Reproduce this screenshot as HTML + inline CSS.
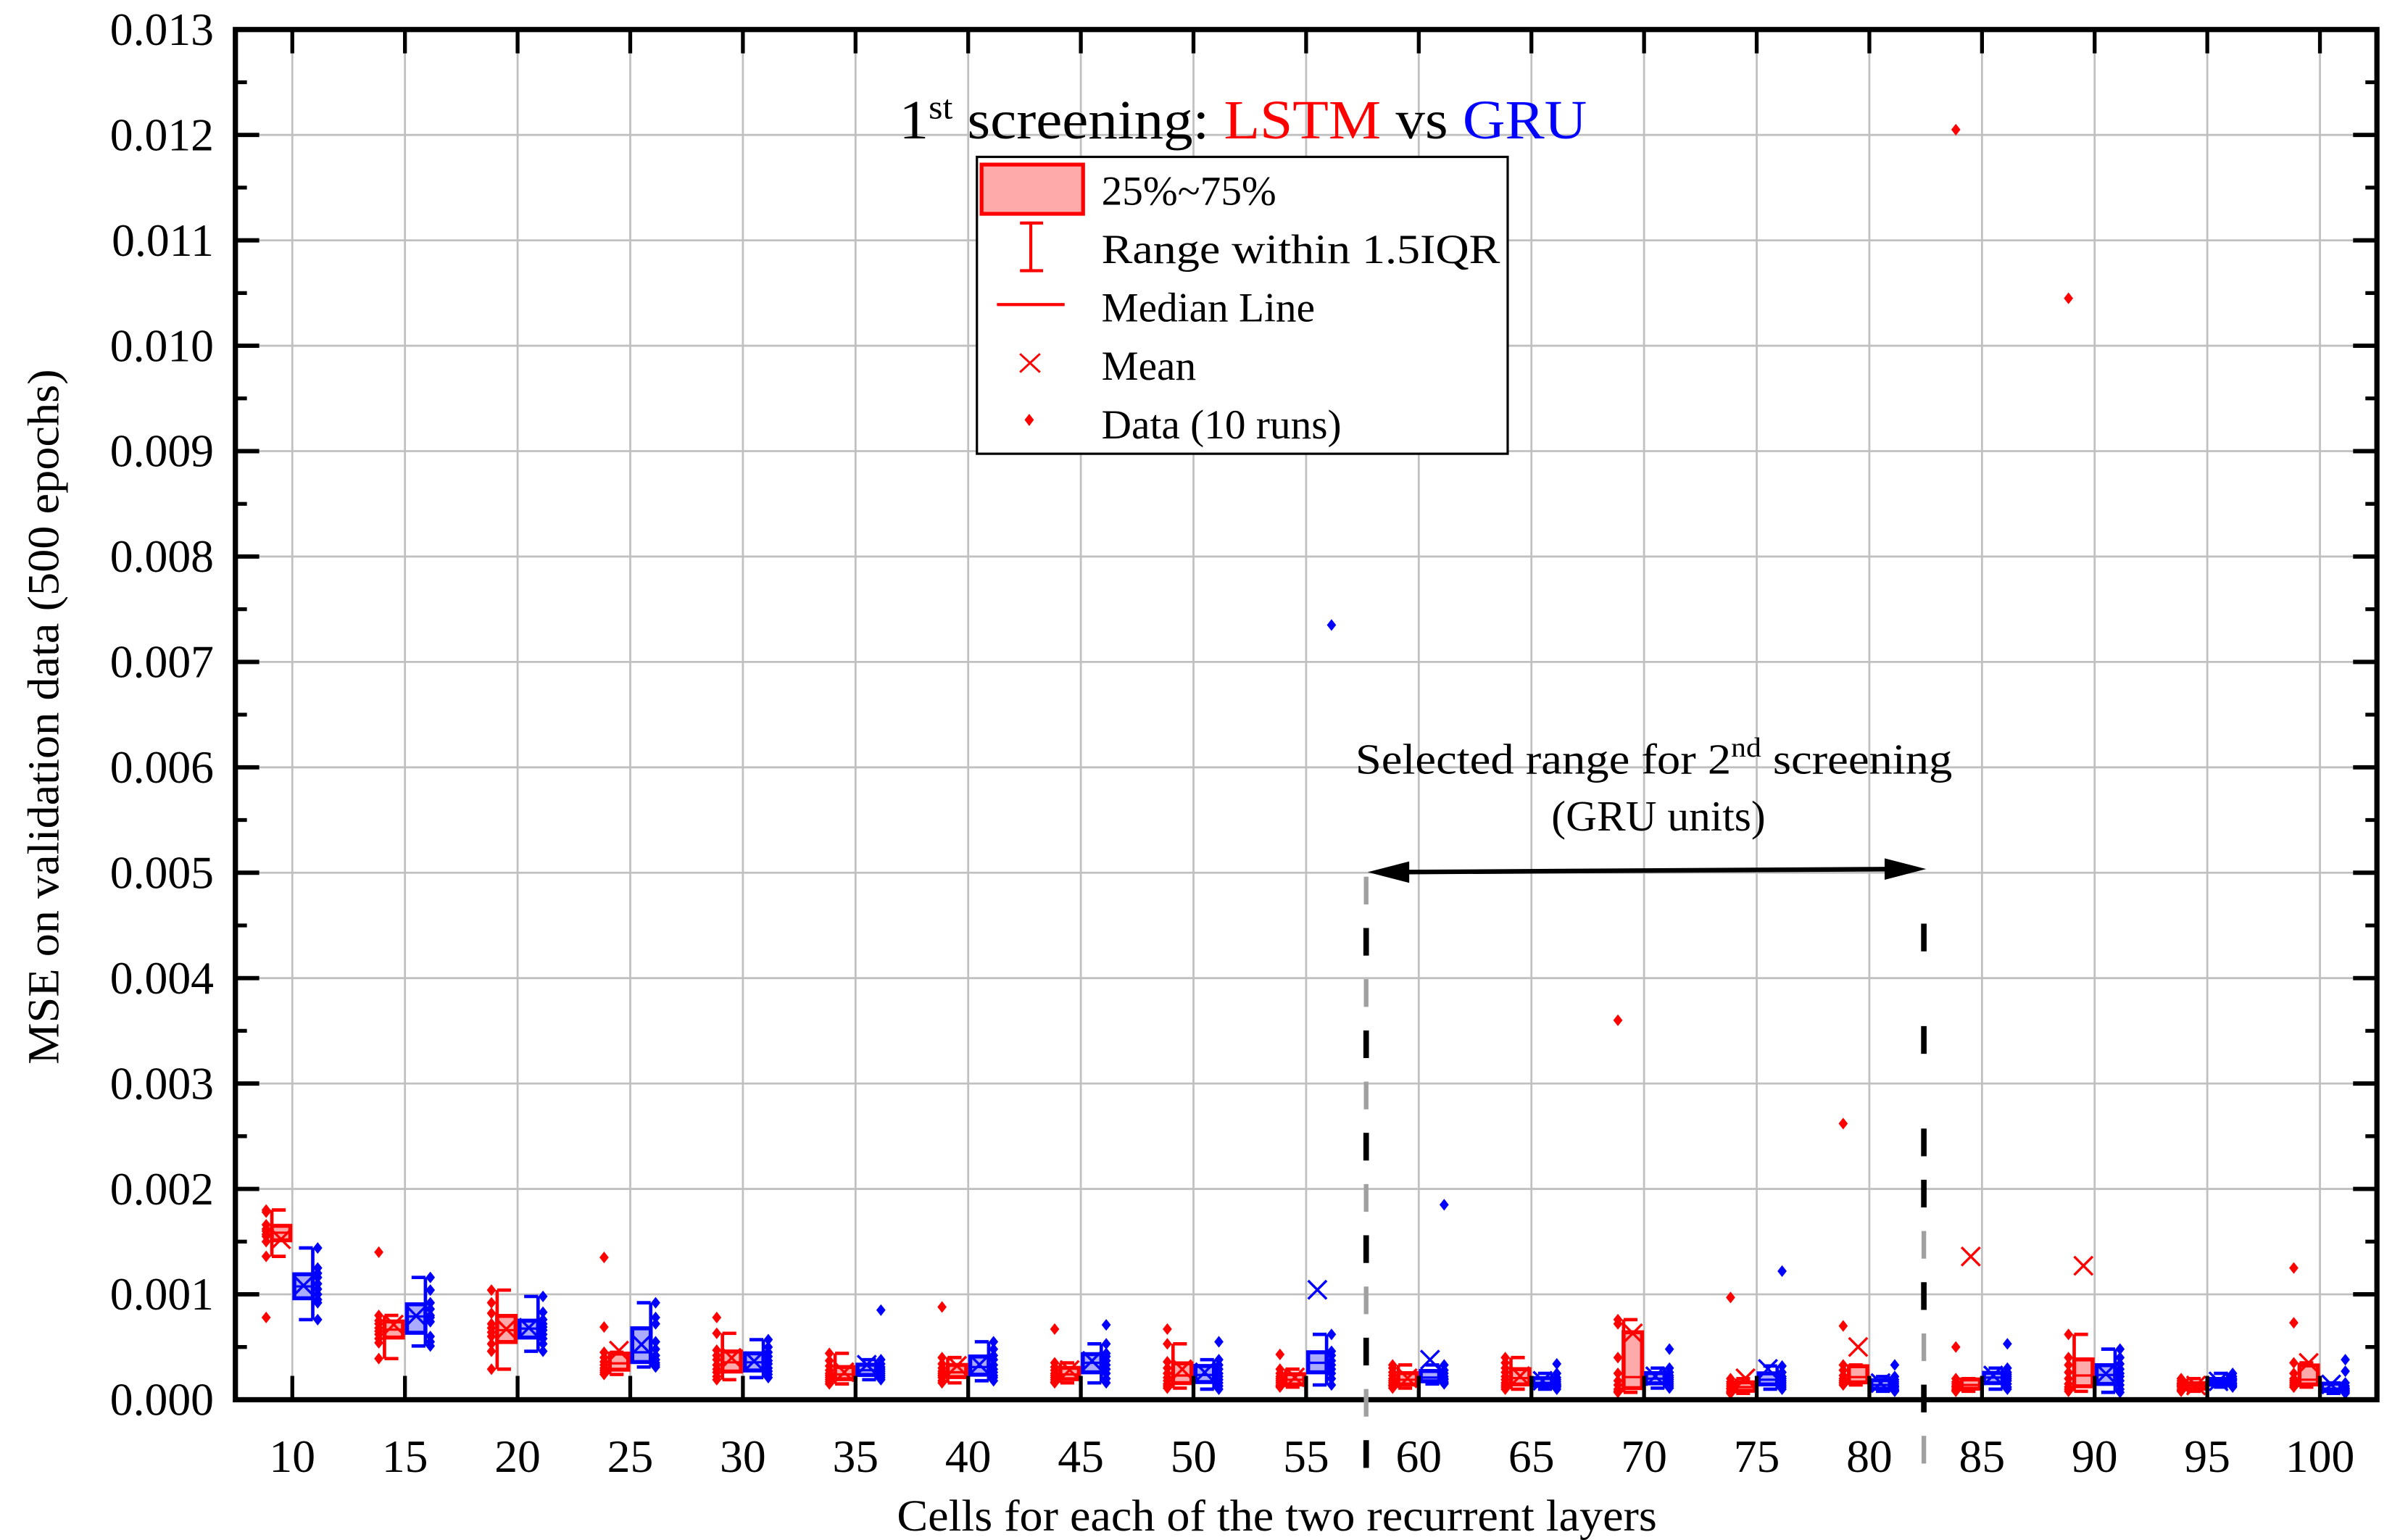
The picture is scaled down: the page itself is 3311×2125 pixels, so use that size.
<!DOCTYPE html>
<html><head><meta charset="utf-8">
<style>html,body{margin:0;padding:0;background:#fff}svg{display:block}text{font-family:"Liberation Serif",serif}</style>
</head><body>
<svg id="chart" width="3311" height="2125" viewBox="0 0 1560 1001.2" preserveAspectRatio="none" xmlns="http://www.w3.org/2000/svg">
<g id="grid"></g>
<g id="marks"></g>
<g id="axes"></g>
<g id="annot"></g>
<text x="808" y="90" text-anchor="middle" font-size="36" textLength="447" lengthAdjust="spacingAndGlyphs">1<tspan dy="-13" font-size="22">st</tspan><tspan dy="13"> screening: </tspan><tspan fill="#ff0000">LSTM</tspan> vs <tspan fill="#0000ff">GRU</tspan></text>
<text x="830" y="995" text-anchor="middle" font-size="29" textLength="494" lengthAdjust="spacingAndGlyphs">Cells for each of the two recurrent layers</text>
<text transform="translate(38,466) rotate(-90)" text-anchor="middle" font-size="29" textLength="452" lengthAdjust="spacingAndGlyphs">MSE on validation data (500 epochs)</text>
<g>
<rect x="635" y="102" width="345" height="193" fill="#fff" stroke="#000" stroke-width="1.5"/>
<rect x="638" y="107" width="66" height="32" fill="#ffaaaa" stroke="#ff0000" stroke-width="2.5"/>
<text x="716" y="133" font-size="27">25%~75%</text>
<path d="M670,145V176M663,145H678M663,176H678" stroke="#ff0000" stroke-width="2" fill="none"/>
<text x="716" y="171" font-size="27" textLength="259" lengthAdjust="spacingAndGlyphs">Range within 1.5IQR</text>
<path d="M648,198H692" stroke="#ff0000" stroke-width="2"/>
<text x="716" y="209" font-size="27">Median Line</text>
<path d="M663,230L676,242M676,230L663,242" stroke="#ff0000" stroke-width="1.4"/>
<text x="716" y="247" font-size="27">Mean</text>
<path d="M669,269L672,273L669,277L666,273Z" fill="#ff0000"/>
<text x="716" y="285" font-size="27">Data (10 runs)</text>
</g>
<text x="1075" y="503" text-anchor="middle" font-size="28" textLength="388" lengthAdjust="spacingAndGlyphs">Selected range for 2<tspan dy="-11" font-size="18">nd</tspan><tspan dy="11"> screening</tspan></text>
<text x="1078" y="540" text-anchor="middle" font-size="28">(GRU units)</text>
</svg>
<script>
const categories = [10,15,20,25,30,35,40,45,50,55,60,65,70,75,80,85,90,95,100];
const yTicks = [0,1,2,3,4,5,6,7,8,9,10,11,12,13];
const yTickLabels = ["0.000","0.001","0.002","0.003","0.004","0.005","0.006","0.007","0.008","0.009","0.010","0.011","0.012","0.013"];
// values in units of 0.001
const lstmRuns = [
[1.80,1.78,1.66,1.62,1.60,1.57,1.55,1.50,1.36,0.78],
[1.40,0.80,0.75,0.72,0.68,0.65,0.62,0.58,0.54,0.39],
[1.04,0.92,0.82,0.72,0.68,0.64,0.60,0.53,0.46,0.29],
[1.35,0.69,0.45,0.40,0.36,0.33,0.30,0.28,0.26,0.24],
[0.78,0.63,0.47,0.42,0.38,0.33,0.29,0.26,0.22,0.19],
[0.44,0.37,0.32,0.28,0.25,0.23,0.21,0.19,0.17,0.15],
[0.88,0.40,0.34,0.30,0.27,0.25,0.23,0.21,0.18,0.16],
[0.67,0.35,0.31,0.28,0.25,0.23,0.21,0.19,0.17,0.16],
[0.67,0.53,0.36,0.30,0.25,0.21,0.18,0.15,0.13,0.11],
[0.43,0.29,0.25,0.22,0.20,0.18,0.16,0.14,0.13,0.12],
[0.33,0.30,0.26,0.23,0.20,0.18,0.16,0.14,0.13,0.11],
[0.40,0.35,0.30,0.26,0.22,0.19,0.16,0.14,0.12,0.10],
[3.60,0.76,0.72,0.40,0.25,0.18,0.14,0.10,0.08,0.07],
[0.97,0.20,0.17,0.15,0.13,0.11,0.10,0.08,0.07,0.06],
[2.62,0.70,0.33,0.28,0.23,0.20,0.18,0.16,0.16,0.14],
[12.05,0.50,0.20,0.17,0.15,0.13,0.12,0.10,0.09,0.08],
[10.45,0.62,0.40,0.33,0.26,0.20,0.15,0.12,0.10,0.08],
[0.20,0.18,0.16,0.15,0.14,0.13,0.12,0.10,0.09,0.08],
[1.25,0.73,0.35,0.25,0.20,0.18,0.16,0.14,0.12,0.12]
];
const gruRuns = [
[1.44,1.25,1.20,1.16,1.10,1.05,1.00,0.95,0.92,0.76],
[1.16,1.04,0.92,0.86,0.80,0.78,0.74,0.60,0.55,0.51],
[0.98,0.83,0.76,0.72,0.69,0.66,0.62,0.58,0.53,0.46],
[0.92,0.78,0.72,0.55,0.48,0.42,0.38,0.35,0.33,0.31],
[0.57,0.50,0.45,0.41,0.37,0.34,0.30,0.27,0.24,0.21],
[0.85,0.38,0.34,0.31,0.29,0.27,0.25,0.23,0.21,0.19],
[0.55,0.48,0.42,0.38,0.33,0.29,0.26,0.23,0.21,0.18],
[0.71,0.53,0.44,0.41,0.37,0.33,0.29,0.25,0.20,0.16],
[0.55,0.38,0.33,0.29,0.25,0.22,0.19,0.16,0.13,0.10],
[7.35,0.62,0.46,0.42,0.37,0.33,0.29,0.25,0.20,0.14],
[1.85,0.33,0.28,0.25,0.22,0.20,0.19,0.17,0.16,0.15],
[0.34,0.25,0.21,0.19,0.17,0.15,0.14,0.13,0.12,0.10],
[0.48,0.30,0.26,0.23,0.21,0.19,0.17,0.15,0.13,0.11],
[1.22,0.32,0.26,0.22,0.20,0.18,0.16,0.14,0.12,0.10],
[0.33,0.22,0.19,0.17,0.15,0.13,0.12,0.10,0.09,0.08],
[0.53,0.30,0.26,0.24,0.22,0.20,0.18,0.15,0.12,0.10],
[0.48,0.40,0.34,0.29,0.25,0.22,0.18,0.14,0.10,0.07],
[0.25,0.22,0.20,0.19,0.18,0.16,0.15,0.14,0.13,0.12],
[0.38,0.27,0.16,0.13,0.11,0.10,0.09,0.08,0.07,0.06]
];
const NS='http://www.w3.org/2000/svg';
const L=153, R=1545, T=19.2, B=910;
function xS(c){return 190+(c-10)/5*73.22;}
function yS(v){return B-v*(B-T)/13;}
function mk(tag,attrs,parent){const e=document.createElementNS(NS,tag);for(const k in attrs)e.setAttribute(k,attrs[k]);parent.appendChild(e);return e;}
const grid=document.getElementById('grid'),marks=document.getElementById('marks'),axes=document.getElementById('axes'),annot=document.getElementById('annot');
yTicks.forEach((v,i)=>{
  const g=mk('line',{x1:L,x2:R,y1:yS(v),y2:yS(v),stroke:'#c0c0c0','stroke-width':1.3},grid);
  
  
  const t=mk('text',{x:139,y:yS(v)+10,'text-anchor':'end','font-size':30},axes);
  t.textContent=yTickLabels[i];
  
  
  [[L,L+15.5],[R,R-15.5]].forEach(p=>mk('line',{x1:p[0],x2:p[1],y1:yS(v),y2:yS(v),stroke:'#000','stroke-width':2.8},axes));
  if(i<yTicks.length-1){const h=v+0.5;[[L,L+7.5],[R,R-7.5]].forEach(p=>mk('line',{x1:p[0],x2:p[1],y1:yS(h),y2:yS(h),stroke:'#000','stroke-width':2.5},axes));}
});
categories.forEach(c=>{
  const g=mk('line',{x1:xS(c),x2:xS(c),y1:T,y2:B,stroke:'#c0c0c0','stroke-width':1.3},grid);
  
  
  mk('line',{x1:xS(c),x2:xS(c),y1:B,y2:B-15.5,stroke:'#000','stroke-width':2.5},axes);
  mk('line',{x1:xS(c),x2:xS(c),y1:T,y2:T+15.5,stroke:'#000','stroke-width':2.5},axes);
  const t=mk('text',{x:xS(c),y:957,'text-anchor':'middle','font-size':30},axes);
  t.textContent=String(c);
  
  
});
mk('rect',{x:L,y:T,width:R-L,height:B-T,fill:'none',stroke:'#000','stroke-width':3.4},axes);
function quant(s,p){const i=(s.length-1)*p,lo=Math.floor(i),hi=Math.ceil(i);return s[lo]+(s[hi]-s[lo])*(i-lo);}
function drawBox(runs,cx,side,stroke,fill,name){
  const s=runs.slice().sort((a,b)=>a-b);
  const q1=quant(s,0.25),q3=quant(s,0.75),med=quant(s,0.5),mean=s.reduce((a,b)=>a+b,0)/s.length;
  const iqr=q3-q1,lo=s.find(v=>v>=q1-1.5*iqr),hi=s.slice().reverse().find(v=>v<=q3+1.5*iqr);
  const bx=cx+side*7.3, w=12;
  const g=mk('g',{},marks);
  
  
  const wx=side<0?bx-w/2:bx+w/2, cap=side<0?wx+9:wx-9;
  mk('path',{d:`M${wx},${yS(lo)}V${yS(hi)}M${wx},${yS(lo)}H${cap}M${wx},${yS(hi)}H${cap}`,stroke:stroke,'stroke-width':2.2,fill:'none'},g);
  mk('rect',{x:bx-w/2,y:yS(q3),width:w,height:Math.max(yS(q1)-yS(q3),0.5),fill:fill,stroke:stroke,'stroke-width':2.6},g);
  mk('line',{x1:bx-w/2,x2:bx+w/2,y1:yS(med),y2:yS(med),stroke:stroke,'stroke-width':1.5},g);
  const my=yS(mean);
  mk('path',{d:`M${bx-6},${my-6}L${bx+6},${my+6}M${bx+6},${my-6}L${bx-6},${my+6}`,stroke:stroke,'stroke-width':1.6},g);
  const px=cx+side*(side<0?17:16.5);
  runs.forEach(v=>{const y=yS(v);
    const d=mk('path',{d:`M${px},${y-3.8}L${px+3},${y}L${px},${y+3.8}L${px-3},${y}Z`,fill:stroke},g);
    
    
  });
}
categories.forEach((c,i)=>{
  drawBox(lstmRuns[i],xS(c),-1,'#ff0000','#ffaaaa','lstm-box-'+c);
  drawBox(gruRuns[i],xS(c),1,'#0000ff','#aaaaff','gru-box-'+c);
});
const leftSeg=['g','b','g','b','g','b','g','b','g','b','g','b'];
const rightSeg=['b','n','b','n','b','b','g','b','g','b','g'];
leftSeg.forEach((t,i)=>{const y0=570+i*33.3;mk('line',{x1:888,x2:888,y1:y0,y2:y0+18,stroke:t==='b'?'#000':'#a0a0a0','stroke-width':t==='b'?3.6:3},annot);});
rightSeg.forEach((t,i)=>{if(t==='n')return;const y0=600.5+i*33.3;mk('line',{x1:1250.5,x2:1250.5,y1:y0,y2:y0+18,stroke:t==='b'?'#000':'#a0a0a0','stroke-width':t==='b'?3.6:3},annot);});
const ar=mk('g',{},annot);


mk('line',{x1:905,y1:567,x2:1235,y2:565,stroke:'#000','stroke-width':3},ar);
mk('path',{d:'M889,567L916,560L916,574Z',fill:'#000'},ar);
mk('path',{d:'M1252,565L1225,558L1225,572Z',fill:'#000'},ar);
</script>
</body></html>
